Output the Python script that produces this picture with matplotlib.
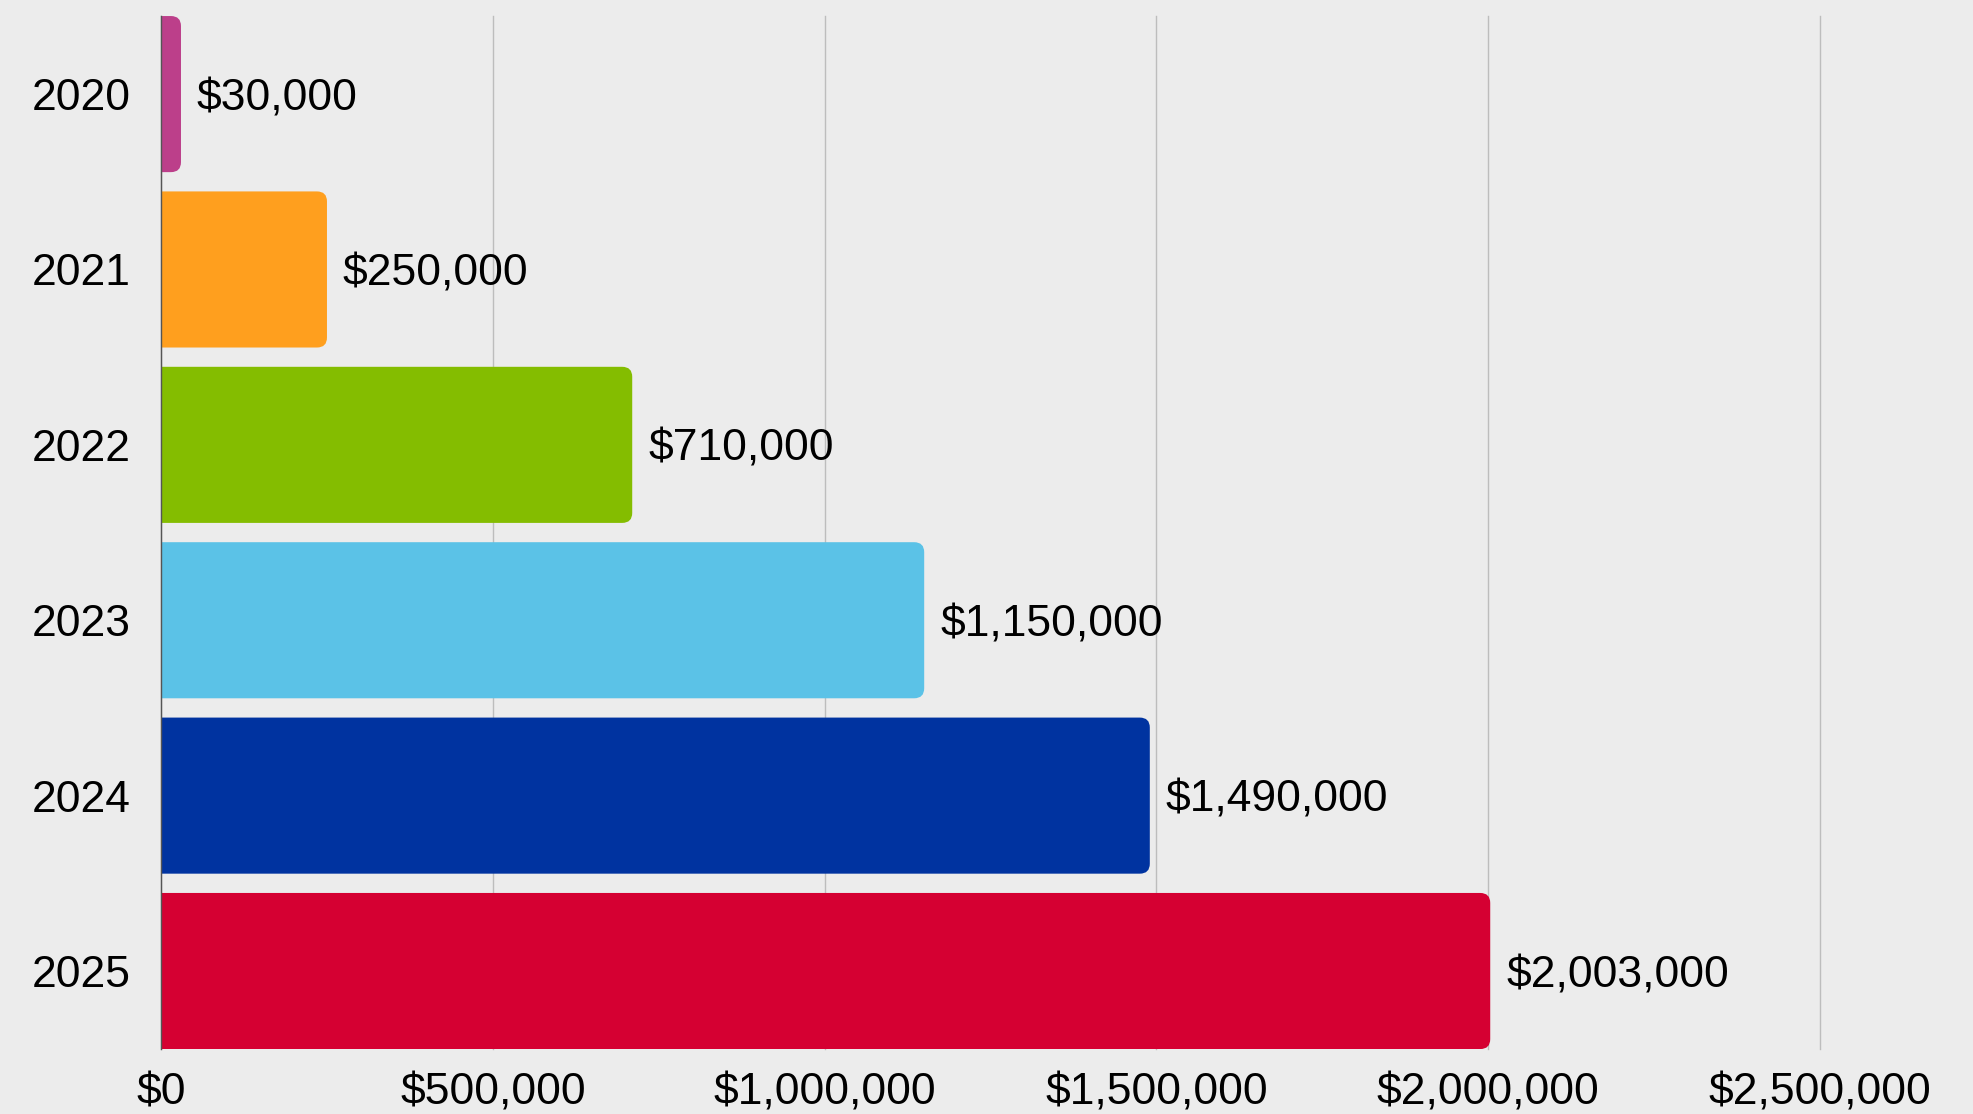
import matplotlib
matplotlib.use("Agg")
from matplotlib import pyplot as plt
from matplotlib.patches import FancyBboxPatch
from matplotlib.ticker import FuncFormatter

years = ["2020", "2021", "2022", "2023", "2024", "2025"]
amounts = [30000, 250000, 710000, 1150000, 1490000, 2003000]
barColors = ["#bc3f8a", "#ff9f1e", "#84bd00", "#5bc2e7", "#0033a0", "#d50032"]
xTicks = [0, 500000, 1000000, 1500000, 2000000, 2500000]

plt.rcParams["font.family"] = ["Liberation Sans", "DejaVu Sans"]
bg = "#ececec"
fontSize = 32

fig = plt.figure(figsize=(19.74, 11.14), dpi=100, facecolor=bg)
ax = fig.add_axes([0.0816, 0.0583, 0.9220 - 0.0816, 0.9856 - 0.0583])
ax.set_facecolor(bg)

barHeight = 0.89
pos = list(range(len(years)))
bars = ax.barh(pos, amounts, height=barHeight, color=barColors)
ax.set_xlim(0, 2500000)
ax.set_ylim(len(years) - 1 + barHeight / 2, -barHeight / 2)

# swap the square bars for ones rounded on the right end
# (left end pushed past the axis and clipped, so it stays square)
fig.canvas.draw()
bb = ax.get_window_extent()
xPerPx = 2500000 / bb.width
yPerPx = (len(years) - 1 + barHeight) / bb.height
radius = 10 * xPerPx
for b, val, c in zip(bars, amounts, barColors):
    x0, y0, w, h = b.get_x(), b.get_y(), b.get_width(), b.get_height()
    b.remove()
    p = FancyBboxPatch((x0 - 3 * radius, y0), w + 3 * radius, h,
                       boxstyle="round,pad=0,rounding_size=%f" % radius,
                       mutation_aspect=yPerPx / xPerPx,
                       facecolor=c, edgecolor="none", zorder=2)
    ax.add_patch(p)
    p.set_clip_path(ax.patch)
    ax.text(x0 + w + 16 * xPerPx, y0 + h / 2, "$" + format(val, ","),
            va="center_baseline", ha="left", fontsize=fontSize, color="black")

ax.set_yticks(pos)
ax.set_yticklabels(years)
ax.set_xticks(xTicks)
ax.xaxis.set_major_formatter(FuncFormatter(lambda v, p: "$" + format(int(v), ",")))
ax.tick_params(axis="both", length=0, labelsize=fontSize, colors="black")
ax.tick_params(axis="y", pad=22)
ax.tick_params(axis="x", pad=17)

ax.grid(axis="x", color="#bdbdbd", linewidth=1)
for gl in ax.get_xgridlines():
    gl.set_clip_on(False)
ax.set_axisbelow(True)
for s in ["top", "right", "bottom"]:
    ax.spines[s].set_visible(False)
ax.spines["left"].set_color("#555555")
ax.spines["left"].set_linewidth(1)
ax.spines["left"].set_zorder(3)

plt.savefig("out.png", dpi=100, facecolor=bg)
